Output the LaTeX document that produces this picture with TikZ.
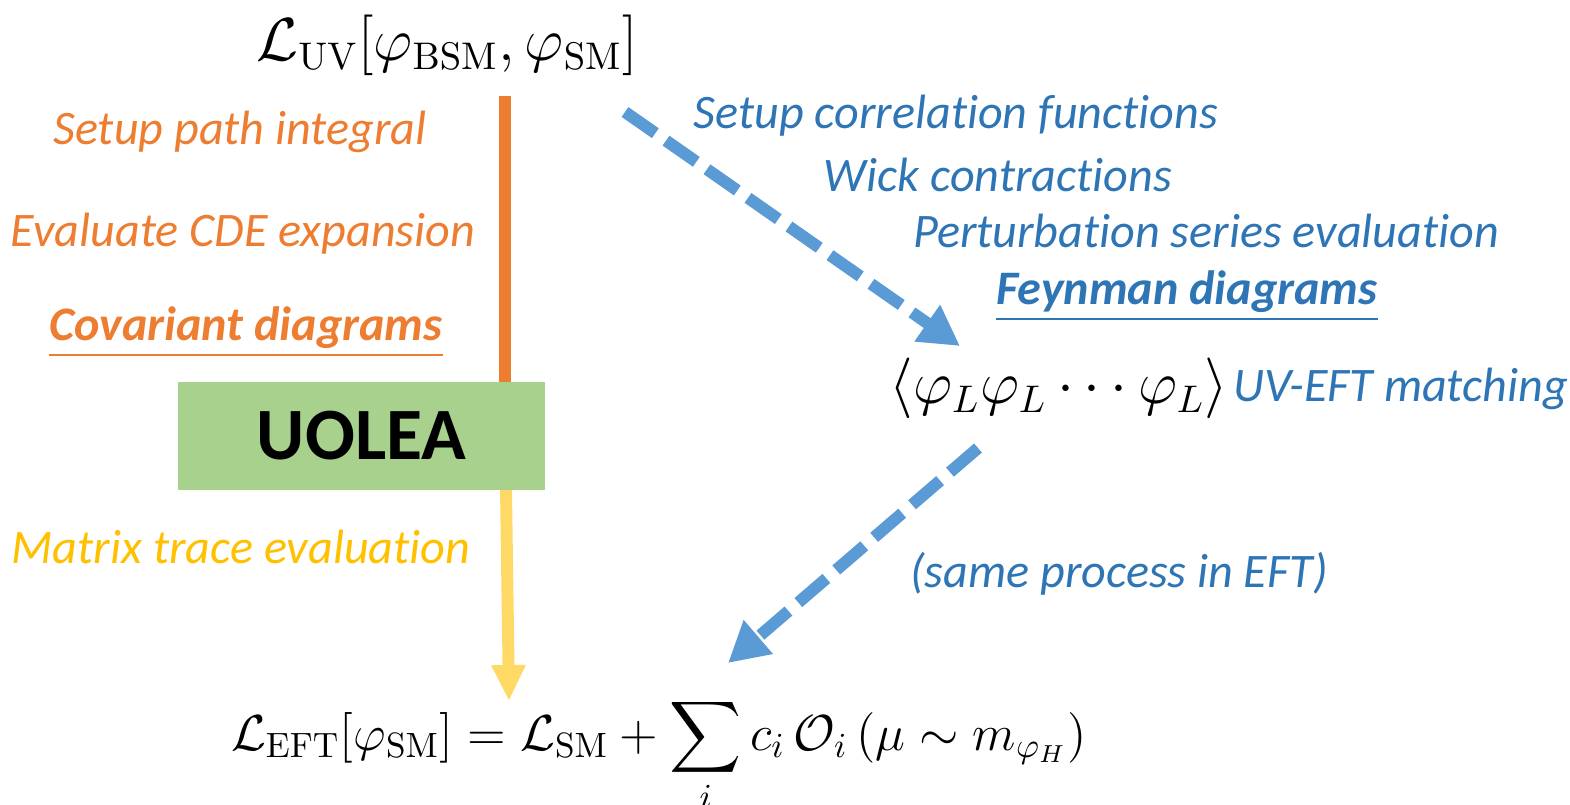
\documentclass[tikz,border=0pt]{standalone}
\usepackage[no-math]{fontspec}
\usepackage{amsmath,amssymb}
\usepackage{tikz}
\usetikzlibrary{arrows.meta}
\newfontfamily\calibri[Ligatures={NoCommon,NoRare},Contextuals=NoAlternate]{Carlito}
\definecolor{uvorange}{HTML}{ED7D31}
\definecolor{trcyellow}{HTML}{FFC000}
\definecolor{lineyellow}{HTML}{FFD966}
\definecolor{feynblue}{HTML}{2E75B6}
\definecolor{arrowblue}{HTML}{5B9BD5}
\definecolor{boxgreen}{HTML}{A9D18E}

\begin{document}
\begin{tikzpicture}[x=0.1mm,y=-0.1mm,
	math node/.style={inner sep=0pt, font=\fontsize{16}{20}\selectfont},
	step text/.style={inner sep=0pt, font=\calibri\itshape\fontsize{13.7}{16}\selectfont},
	orange step/.style={step text, text=uvorange},
	blue step/.style={step text, text=feynblue},
	bold step/.style={font=\calibri\bfseries\itshape\fontsize{13.7}{16}\selectfont},
	dash arrow/.style={arrowblue, line width=3.4pt, dash pattern=on 3.7mm off 1.3mm, -{Triangle[length=4mm,width=4.2mm]}}]
	\useasboundingbox (0,0) rectangle (1570,804);
	% Nodes
	\node[math node] (uv) at (447,45) {$\mathcal{L}_{\mathrm{UV}}[\varphi_{\mathrm{BSM}},\varphi_{\mathrm{SM}}]$};
	\node[math node, font=\fontsize{16.2}{20}\selectfont] (corr) at (1059,388) {$\langle\varphi_L\varphi_L\cdots\varphi_L\rangle$};
	\node[math node, anchor=base, font=\fontsize{14.2}{17}\selectfont] (eft) at (659,750) {$\displaystyle\mathcal{L}_{\mathrm{EFT}}[\varphi_{\mathrm{SM}}]=\mathcal{L}_{\mathrm{SM}}+\sum_i c_i\,\mathcal{O}_i\,(\mu\sim m_{\varphi_H})$};
	
	% ends of the connectors
	\coordinate (orange top) at (505,96);
	\coordinate (orange bot) at (505,382);
	\coordinate (yellow top) at (506,490);
	\coordinate (yellow tip) at (509,701);
	\coordinate (blue1 start) at (625,112);
	\coordinate (blue1 tip) at (960,346);
	\coordinate (blue2 start) at (978,448);
	\coordinate (blue2 tip) at (728,663);
	
	\draw[uvorange, line width=3.4pt] (orange top) -- (orange bot);
	\draw[lineyellow, line width=3.4pt, -{Triangle[length=3.6mm,width=3.2mm]}] (yellow top) -- (yellow tip);
	\node[fill=boxgreen, minimum width=36.7mm, minimum height=10.8mm, inner sep=0pt,
		font=\calibri\bfseries\fontsize{21}{26}\selectfont] (uolea) at (361.5,436) {UOLEA};
	\draw[dash arrow] (blue1 start) -- (blue1 tip);
	\draw[dash arrow] (blue2 start) -- (blue2 tip);
	
	% left steps
	\node[orange step] (path) at (240,132) {Setup path integral};
	\node[orange step] (cde) at (243,234) {Evaluate CDE expansion};
	\node[orange step, bold step] (covd) at (246,332) {\underline{Covariant diagrams}};
	\node[step text, text=trcyellow] (trace) at (241,547) {Matrix trace evaluation};
	
	% right steps
	\node[blue step] (setup) at (956,116) {Setup correlation functions};
	\node[blue step] (wick) at (998,175) {Wick contractions};
	\node[blue step] (pert) at (1206,231) {Perturbation series evaluation};
	\node[blue step, bold step] (feyn) at (1187,296) {\underline{Feynman diagrams}};
	\node[blue step, anchor=west] (match) at (1233,389) {UV-EFT matching};
	\node[blue step] (same) at (1119,574) {(same process in EFT)};
\end{tikzpicture}
\end{document}
